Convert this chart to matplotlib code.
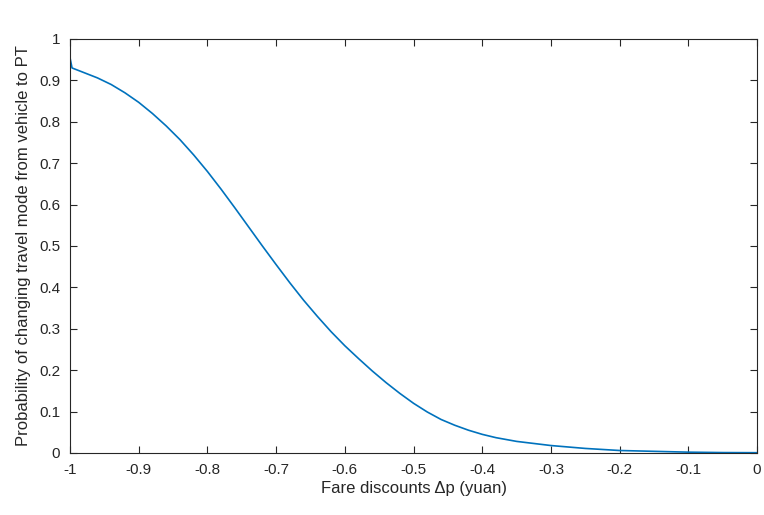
import matplotlib
matplotlib.use("Agg")
from matplotlib import pyplot as plt

plt.rcParams['font.family'] = ['Liberation Sans', 'DejaVu Sans']

# fare discount (yuan) and probability
discount = [-1.0, -1.0, -0.997, -0.98, -0.96, -0.94, -0.92, -0.90, -0.88, -0.86,
            -0.84, -0.82, -0.80, -0.78, -0.76, -0.74, -0.72, -0.70, -0.68, -0.66,
            -0.64, -0.62, -0.60, -0.58, -0.56, -0.54, -0.52, -0.50, -0.48, -0.46,
            -0.44, -0.42, -0.40, -0.38, -0.35, -0.30, -0.25, -0.20, -0.15, -0.10,
            -0.05, 0.0]
prob = [0.0, 0.955, 0.930, 0.919, 0.906, 0.890, 0.870, 0.847, 0.820, 0.790,
        0.757, 0.720, 0.680, 0.637, 0.592, 0.546, 0.500, 0.455, 0.411, 0.369,
        0.330, 0.293, 0.259, 0.228, 0.198, 0.170, 0.144, 0.120, 0.099, 0.081,
        0.067, 0.055, 0.045, 0.037, 0.028, 0.018, 0.011, 0.006, 0.004, 0.002,
        0.001, 0.0007]

xticks = [-1, -0.9, -0.8, -0.7, -0.6, -0.5, -0.4, -0.3, -0.2, -0.1, 0]
xtick_labels = ['-1', '-0.9', '-0.8', '-0.7', '-0.6', '-0.5', '-0.4', '-0.3', '-0.2', '-0.1', '0']
yticks = [0, 0.1, 0.2, 0.3, 0.4, 0.5, 0.6, 0.7, 0.8, 0.9, 1]
ytick_labels = ['0', '0.1', '0.2', '0.3', '0.4', '0.5', '0.6', '0.7', '0.8', '0.9', '1']

fig = plt.figure(figsize=(7.64, 5.15), dpi=100)
ax = fig.add_axes([0.0916, 0.1204, 0.8994, 0.8039])

ax.plot(discount, prob, color='#0072BD', linewidth=1.2, solid_joinstyle='round')

ax.set_xlim(-1, 0)
ax.set_ylim(0, 1)
ax.set_xticks(xticks)
ax.set_xticklabels(xtick_labels)
ax.set_yticks(yticks)
ax.set_yticklabels(ytick_labels)

dark = '#262626'
for s in ax.spines.values():
    s.set_color(dark)
    s.set_linewidth(0.8)
ax.tick_params(direction='in', top=True, right=True, length=5, width=0.8,
               color=dark, labelcolor=dark, labelsize=11, pad=7)

ax.set_xlabel('Fare discounts Δp (yuan)', fontsize=12, color=dark, labelpad=3)
ax.set_ylabel('Probability of changing travel mode from vehicle to PT', fontsize=12,
              color=dark, labelpad=6)

fig.savefig("out.png", dpi=100)
